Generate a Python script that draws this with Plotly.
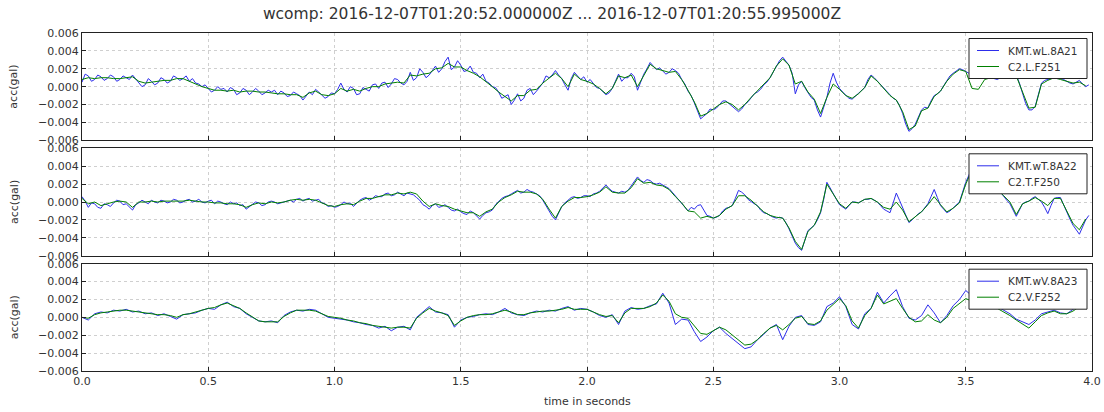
import numpy as np
import plotly.graph_objects as go

# ---------------- data (values read in units of 0.001 gal) ----------------
SCALE = 1e-3
DURATION = 4.0  # seconds covered by every series; samples are evenly spaced

TITLE = "wcomp: 2016-12-07T01:20:52.000000Z ... 2016-12-07T01:20:55.995000Z"
NAMES_BLUE = ["KMT.wL.8A21", "KMT.wT.8A22", "KMT.wV.8A23"]
NAMES_GREEN = ["C2.L.F251", "C2.T.F250", "C2.V.F252"]
Y_LABEL = "acc(gal)"
X_LABEL = "time in seconds"

# read every 0.0125 s
L_kmt = [
    0.5, 1.4, 1.2, 0.6, 0.8, 1.3, 1.1, 0.7, 0.9, 1.3, 1.1, 0.6, 0.8, 1.2, 1.0, 0.8,
    1.3, 0.9, 0.5, 0.0, 0.2, 0.9, 0.6, 0.2, 0.4, 1.0, 0.8, 0.4, 0.6, 1.2, 1.0, 0.7,
    0.9, 1.2, 0.6, 0.9, 0.4, 0.3, 0.0, 0.2, -0.2, -0.6, -0.4, 0.0, -0.3, -0.2, -0.6, -0.1,
    -0.3, -0.9, -0.7, -0.2, -0.4, -0.9, -0.6, -0.2, -0.5, -0.9, -0.7, -0.4, -0.6, -0.4, -0.9, -0.5,
    -0.7, -1.1, -1.0, -0.6, -0.8, -1.0, -1.5, -1.0, -0.6, -0.9, -0.3, -0.6, -0.9, -1.3, -1.1, -0.7,
    -0.8, -0.3, 0.4, -0.3, -0.6, 0.0, -0.2, -0.9, -0.8, -0.1, -0.3, -0.5, 0.2, 0.3, -0.2, 0.4,
    0.5, -0.1, 0.3, 0.9, 0.8, 0.4, 0.2, 0.6, 1.6, 0.7, 1.0, 2.0, 1.6, 1.0, 1.3, 1.8,
    2.3, 1.6, 2.0, 2.8, 3.3, 1.9, 2.2, 2.9, 2.4, 1.7, 1.8, 2.3, 1.6, 1.5, 1.0, 1.4,
    0.6, 0.4, 0.0, -0.1, -0.6, -1.3, -1.1, -0.9, -2.0, -1.5, -0.8, -1.6, -1.3, -0.4, -0.2, -0.9,
    -0.5, 0.0, 0.4, 1.2, 1.0, 1.3, 1.8, 1.3, 0.9, 0.2, -0.4, 0.9, 1.6, 1.2, 0.8, 1.1,
    0.5, 0.8, 0.3, -0.1, -0.2, -0.5, -0.9, -0.7, -0.2, 0.6, 1.4, 0.6, 1.0, 1.0, 1.5, 1.1,
    -0.4, 0.5, 1.4, 2.0, 2.7, 2.3, 1.9, 2.1, 1.8, 1.4, 1.6, 2.0, 1.8, 1.5, 0.8, 0.3,
    -0.5, -1.0, -1.8, -2.8, -3.6, -3.3, -3.0, -2.5, -2.6, -2.4, -2.0, -1.6, -1.6, -1.9, -2.2, -2.4,
    -2.8, -2.5, -2.0, -1.7, -1.2, -0.8, -0.6, -0.3, 0.2, 0.5, 1.0, 1.6, 2.2, 2.9, 3.3, 2.9,
    2.4, 1.5, -0.8, 0.2, 0.6, -0.1, -0.6, -1.2, -1.5, -2.6, -3.4, -2.4, -1.2, 0.4, 1.5, 0.5,
    -0.2, -0.6, -1.0, -1.3, -1.4, -1.1, -0.8, -0.5, -0.1, 0.8, 1.3, 1.0, 0.6, 0.2, -0.2, -0.6,
    -1.0, -1.3, -1.5, -2.1, -3.0, -4.2, -5.0, -4.7, -4.2, -3.3, -2.6, -2.3, -2.4, -1.6, -1.0, -0.8,
    -0.5, 0.1, 0.7, 1.2, 1.5, 1.8, 2.0, 1.9, 1.7, 1.5, 1.5, 1.3, 1.2, 1.0, 0.9, 1.0,
    1.1, 0.9, 0.8, 1.0, 1.2, 1.1, 1.0, 1.2, 1.3, 0.4, -0.8, -1.9, -2.6, -2.6, -2.2, -0.9,
    0.4, 0.7, 0.8, 0.9, 1.0, 0.9, 0.9, 0.8, 0.6, 0.4, 0.3, 0.5, 0.7, 0.3, 0.0, 0.2,
]
# read every 0.025 s
L_c2 = [
    0.8, 1.0, 0.9, 1.0, 1.0, 0.9, 0.9, 1.0,
    1.1, 0.6, 0.4, 0.5, 0.6, 0.7, 0.7, 0.9,
    0.9, 0.6, 0.3, 0.0, -0.2, -0.4, -0.4, -0.5,
    -0.4, -0.6, -0.5, -0.5, -0.6, -0.6, -0.7, -0.8,
    -0.8, -0.9, -0.9, -1.2, -0.7, -0.5, -0.9, -1.0,
    -0.8, -0.2, -0.5, -0.3, -0.5, -0.2, 0.0, 0.0,
    0.3, 0.4, 0.5, 0.4, 1.3, 1.2, 1.4, 1.5,
    2.0, 2.1, 2.6, 2.2, 2.2, 1.8, 1.5, 1.1,
    0.6, 0.0, -0.6, -1.1, -1.6, -1.0, -1.0, -0.4,
    -0.3, 0.4, 1.0, 1.5, 0.9, 0.0, 1.4, 0.8,
    0.6, 0.3, -0.2, -0.8, -0.2, 1.2, 1.0, 1.3,
    0.0, 1.3, 2.5, 2.0, 1.8, 1.6, 1.7, 0.8,
    -0.4, -1.7, -3.3, -3.0, -2.5, -2.0, -1.7, -2.0,
    -2.6, -2.0, -1.2, -0.5, 0.2, 1.0, 2.3, 3.1,
    2.4, 0.3, 0.6, -0.6, -1.4, -3.0, -1.2, 0.3,
    -0.3, -1.0, -1.3, -0.8, -0.1, 1.2, 0.6, -0.2,
    -1.0, -1.5, -2.8, -4.8, -4.4, -2.7, -2.4, -1.1,
    -0.5, 0.6, 1.4, 1.9, 1.7, -0.2, -0.3, 0.8,
    1.0, 0.9, 1.1, 1.0, 1.2, -0.6, -2.4, -2.3,
    0.3, 0.7, 1.0, 0.8, 0.6, 0.4, 0.5, 0.1,
]
# read every 0.0125 s
T_kmt = [
    0.6, 0.1, -0.6, -0.1, -0.2, -0.6, -0.7, -0.2, -0.3, -0.5, -0.1, 0.2, 0.1, -0.3, -0.2, -0.5,
    -0.9, -0.3, -0.1, 0.2, 0.0, -0.2, 0.2, 0.0, -0.1, 0.2, 0.1, -0.1, 0.0, 0.3, 0.2, -0.1,
    0.0, 0.2, 0.3, 0.0, 0.1, 0.3, 0.0, -0.1, 0.1, 0.2, -0.2, 0.1, 0.0, -0.2, -0.3, 0.0,
    -0.2, -0.1, -0.4, -0.3, -0.8, -0.5, -0.3, 0.0, -0.1, -0.4, -0.3, 0.0, 0.1, 0.0, -0.2, -0.1,
    0.0, 0.1, 0.2, 0.0, 0.3, 0.4, 0.1, 0.3, 0.4, 0.1, 0.2, 0.3, -0.1, -0.2, -0.5, -0.4,
    -0.6, -0.5, -0.3, 0.0, -0.2, -0.1, -0.5, -0.1, 0.2, 0.4, 0.5, 0.2, 0.4, 0.7, 0.6, 0.6,
    0.9, 1.0, 0.7, 0.8, 1.1, 0.9, 0.7, 1.0, 0.9, 0.8, 0.5, 0.2, -0.3, -0.5, -0.8, -0.4,
    -0.2, -0.6, -0.5, -0.3, -0.6, -0.9, -1.0, -0.8, -1.1, -1.3, -1.4, -1.0, -1.2, -1.6, -1.9, -1.5,
    -1.2, -1.1, -0.9, -0.3, 0.1, 0.4, 0.6, 0.7, 0.9, 1.1, 1.3, 1.0, 1.1, 1.4, 1.2, 1.1,
    0.9, 0.7, 0.2, -0.4, -1.0, -1.6, -2.0, -1.2, -0.5, -0.1, 0.2, 0.5, 0.6, 0.4, 0.5, 0.7,
    0.7, 0.6, 0.9, 1.0, 1.2, 1.5, 1.9, 1.5, 1.2, 1.1, 1.0, 1.2, 1.1, 1.3, 1.8, 2.3,
    2.8, 2.4, 2.2, 2.5, 2.4, 2.1, 2.0, 2.1, 1.9, 1.7, 1.5, 1.1, 0.7, 0.3, -0.1, -0.6,
    -1.0, -0.6, -0.8, -0.4, -0.3, -0.9, -1.5, -1.6, -1.8, -1.7, -1.5, -1.0, -0.7, -0.6, -0.4, 0.4,
    1.3, 1.1, 0.8, 0.3, 0.0, -0.2, -0.4, -0.9, -1.2, -1.3, -1.5, -1.7, -1.8, -1.7, -1.8, -2.3,
    -3.0, -3.8, -4.6, -5.1, -5.4, -4.3, -3.2, -2.9, -2.6, -2.0, -1.2, 0.3, 2.2, 1.6, 0.9, 0.3,
    -0.3, -0.6, -0.8, -0.4, 0.0, 0.0, -0.1, 0.1, 0.3, 0.3, 0.4, 0.2, 0.0, -0.4, -0.8, -1.0,
    -1.2, -0.1, 1.0, 0.2, -0.6, -1.5, -2.3, -2.0, -1.6, -1.3, -1.1, -0.6, -0.2, 0.6, 1.4, 0.5,
    -0.4, -0.8, -1.2, -1.0, -0.7, -0.4, 0.0, 1.1, 2.2, 3.0, 3.8, 3.4, 3.0, 2.4, 1.8, 1.5,
    1.2, 1.4, 1.6, 1.1, 0.6, 0.2, -0.2, -0.9, -1.6, -0.9, -0.2, 0.0, 0.1, 0.4, 0.6, 0.3,
    0.0, -0.6, -1.3, -0.4, 0.4, 0.5, 0.5, -0.3, -1.2, -1.9, -2.6, -3.1, -3.6, -2.8, -2.0, -1.5,
]
# read every 0.025 s
T_c2 = [
    0.4, -0.2, 0.0, -0.4, -0.2, 0.0, 0.1, 0.0,
    -0.6, 0.0, 0.0, 0.1, 0.0, 0.1, 0.1, 0.1,
    0.1, 0.2, 0.1, 0.0, 0.0, -0.1, -0.1, -0.2,
    -0.2, -0.3, -0.6, -0.3, -0.1, -0.2, 0.0, -0.1,
    0.0, 0.2, 0.3, 0.2, 0.3, 0.2, -0.1, -0.4,
    -0.5, -0.3, -0.2, -0.3, 0.1, 0.4, 0.4, 0.6,
    0.8, 0.8, 1.0, 0.9, 1.1, 0.9, 0.1, -0.5,
    -0.2, -0.4, -0.5, -0.8, -1.0, -1.2, -1.2, -1.6,
    -1.1, -0.8, 0.0, 0.5, 0.8, 1.2, 1.1, 1.1,
    0.9, 0.3, -0.8, -1.8, -0.5, 0.1, 0.5, 0.5,
    0.6, 0.8, 1.1, 1.7, 1.1, 1.0, 1.0, 1.6,
    2.6, 2.1, 2.2, 1.9, 1.8, 1.4, 0.6, -0.1,
    -1.0, -1.1, -1.8, -1.6, -1.8, -1.5, -0.8, -0.4,
    0.7, 0.7, 0.2, -0.4, -1.1, -1.5, -1.7, -1.8,
    -2.9, -4.4, -5.3, -3.3, -2.6, -1.1, 2.0, 0.9,
    -0.2, -0.7, 0.0, -0.1, 0.3, 0.4, 0.0, -0.6,
    -0.8, 0.0, -0.9, -2.2, -1.6, -1.1, -0.3, 0.6,
    -0.3, -1.1, -0.7, -0.1, 2.0, 3.6, 3.0, 1.8,
    1.3, 1.4, 0.7, 0.0, -1.4, -0.2, 0.1, 0.5,
    0.1, -0.4, 0.4, 0.4, -1.0, -2.4, -3.1, -1.9,
]
# read every 0.025 s
V_kmt = [
    0.0, -0.3, 0.4, 0.6, 0.5, 0.8, 0.7, 0.9,
    0.6, 0.7, 0.4, 0.5, 0.2, 0.4, 0.1, -0.2,
    0.3, 0.4, 0.5, 0.8, 1.0, 0.9, 1.4, 1.7,
    1.2, 1.0, 0.4, 0.0, -0.4, -0.5, -0.4, -0.6,
    0.2, 0.6, 0.8, 0.7, 0.9, 0.8, 0.4, 0.0,
    -0.1, -0.2, -0.3, -0.5, -0.6, -0.8, -0.9, -1.2,
    -1.0, -1.5, -1.1, -1.0, -1.4, 0.0, 0.6, 1.2,
    0.6, 0.5, 0.3, -1.1, -0.3, 0.0, 0.1, 0.3,
    0.4, 0.3, 0.6, 1.0, 0.5, 0.3, 0.2, 0.5,
    0.7, 0.6, 0.8, 0.7, 1.0, 1.2, 0.8, 1.0,
    0.9, 0.6, 0.2, 0.0, 0.3, -0.8, 0.7, 1.1,
    0.9, 1.0, 1.3, 1.5, 2.7, 1.6, -0.8, -0.2,
    -0.3, -1.6, -2.7, -2.2, -1.5, -1.1, -1.8, -2.4,
    -2.9, -3.5, -3.3, -2.5, -1.9, -1.2, -0.8, -2.5,
    -1.0, 0.0, 0.2, -0.8, -0.9, -0.5, 1.2, 1.6,
    2.3, 1.2, -0.8, -1.3, 0.4, 1.0, 2.8, 1.6,
    2.4, 3.1, 1.2, -0.1, -0.3, 0.2, 1.4, 0.5,
    -0.6, 0.2, 1.3, 2.0, 3.0, 2.4, 1.6, 1.3,
    1.0, 1.2, 0.8, 0.4, -0.2, -0.5, -0.8, -0.3,
    0.4, 0.6, 0.8, 0.5, 0.4, 0.9, 1.4, 1.9,
]
# read every 0.025 s
V_c2 = [
    0.0, -0.1, 0.3, 0.5, 0.6, 0.7, 0.8, 0.8,
    0.7, 0.6, 0.5, 0.4, 0.3, 0.3, 0.2, 0.0,
    0.3, 0.4, 0.6, 0.8, 1.0, 1.1, 1.4, 1.6,
    1.3, 1.0, 0.5, 0.0, -0.4, -0.5, -0.5, -0.5,
    0.1, 0.5, 0.8, 0.8, 0.8, 0.7, 0.4, 0.1,
    0.0, -0.1, -0.3, -0.4, -0.6, -0.7, -0.9, -1.0,
    -1.1, -1.2, -1.1, -1.1, -1.2, -0.1, 0.5, 1.0,
    0.7, 0.5, 0.2, -0.9, -0.4, 0.0, 0.2, 0.3,
    0.3, 0.4, 0.6, 0.8, 0.6, 0.3, 0.3, 0.5,
    0.6, 0.7, 0.7, 0.8, 0.9, 1.1, 0.9, 0.9,
    0.9, 0.6, 0.3, 0.1, 0.2, -0.6, 0.5, 1.0,
    1.0, 1.0, 1.2, 1.6, 2.5, 1.8, 0.4, 0.0,
    -0.1, -1.0, -1.8, -1.9, -1.5, -1.1, -1.4, -2.0,
    -2.5, -3.1, -3.0, -2.5, -1.8, -1.2, -0.9, -1.4,
    -0.8, -0.1, 0.1, -0.7, -0.8, -0.4, 0.8, 1.4,
    2.1, 1.3, -0.4, -1.2, 0.2, 1.0, 2.5, 1.5,
    1.8, 2.1, 1.0, 0.0, -0.5, -0.4, 0.3, -0.3,
    -0.6, 0.0, 1.0, 1.6, 2.1, 1.8, 1.2, 1.1,
    1.0, 1.0, 0.6, 0.2, -0.3, -0.8, -1.2, -0.5,
    0.2, 0.5, 0.7, 0.4, 0.4, 0.7, 1.2, 1.7,
]

Y_TICKS = [-0.006, -0.004, -0.002, 0.0, 0.002, 0.004, 0.006]
Y_TICKTEXT = ["\u22120.006", "\u22120.004", "\u22120.002", "0.000", "0.002", "0.004", "0.006"]
X_TICKS = [0.0, 0.5, 1.0, 1.5, 2.0, 2.5, 3.0, 3.5, 4.0]
X_TICKTEXT = ["0.0", "0.5", "1.0", "1.5", "2.0", "2.5", "3.0", "3.5", "4.0"]

# ---------------- styling ----------------
W, H = 1104, 412
ML, MR, MT, MB = 82, 12, 33, 41
PW, PH = W - ML - MR, H - MT - MB
FONT = "DejaVu Sans"
TXT = "#333333"
BLUE = "rgb(45,45,235)"
GREEN = "rgb(0,128,0)"


def px_x(px):
    return (px - ML) / PW


domains = [(230.7 / PH, 1.0), (115.3 / PH, 222.7 / PH), (0.0, 107.3 / PH)]
series = [(L_kmt, L_c2), (T_kmt, T_c2), (V_kmt, V_c2)]

fig = go.Figure()
layout = dict(
    width=W, height=H, autosize=False,
    margin=dict(l=ML, r=MR, t=MT, b=MB, autoexpand=False),
    paper_bgcolor="white", plot_bgcolor="white",
    font=dict(family=FONT, size=11, color=TXT),
    showlegend=False,
    title=dict(text=TITLE, x=0.5, xref="container", xanchor="center",
               y=1 - 14 / H, yanchor="middle",
               font=dict(family=FONT, size=15.5, color=TXT)),
)

annotations, shapes = [], []
for i, (blue, green) in enumerate(series):
    k = "" if i == 0 else str(i + 1)
    xa, ya = "x" + k, "y" + k
    tb = np.arange(len(blue)) * DURATION / len(blue)
    tg = np.arange(len(green)) * DURATION / len(green)
    fig.add_trace(go.Scatter(x=tb, y=np.array(blue) * SCALE, mode="lines",
                             name=NAMES_BLUE[i], line=dict(color=BLUE, width=1),
                             xaxis=xa, yaxis=ya))
    fig.add_trace(go.Scatter(x=tg, y=np.array(green) * SCALE, mode="lines",
                             name=NAMES_GREEN[i], line=dict(color=GREEN, width=1),
                             xaxis=xa, yaxis=ya))
    axis_common = dict(showline=True, mirror=True, linecolor="#222", linewidth=1,
                       ticks="inside", ticklen=4, tickcolor="#222",
                       showgrid=True, gridcolor="#cfcfcf", griddash="dot", gridwidth=1,
                       zeroline=False, automargin=False,
                       tickfont=dict(family=FONT, size=11, color=TXT))
    layout["xaxis" + k] = dict(axis_common, domain=[0, 1], anchor=ya, range=[0, 4],
                               tickvals=X_TICKS, ticktext=X_TICKTEXT,
                               showticklabels=(i == 2))
    layout["yaxis" + k] = dict(axis_common, domain=list(domains[i]), anchor=xa,
                               range=[-0.006, 0.006], tickvals=Y_TICKS,
                               ticktext=Y_TICKTEXT)
    annotations.append(dict(text=Y_LABEL, xref="paper", yref="paper",
                            x=px_x(14), y=sum(domains[i]) / 2,
                            textangle=-90, showarrow=False, xanchor="center",
                            yanchor="middle", font=dict(family=FONT, size=11, color=TXT)))

    # legend box drawn in the upper right corner of each panel
    top = domains[i][1]

    def py(dy, top=top):
        return top - dy / PH

    shapes.append(dict(type="rect", xref="paper", yref="paper",
                       x0=px_x(969), x1=px_x(1087), y0=py(45.5), y1=py(5.5),
                       fillcolor="white", line=dict(color="#222", width=1), layer="above"))
    for j, (name, col) in enumerate([(NAMES_BLUE[i], BLUE), (NAMES_GREEN[i], GREEN)]):
        yy = py(17.5 + 16 * j)
        shapes.append(dict(type="line", xref="paper", yref="paper",
                           x0=px_x(977), x1=px_x(999), y0=yy, y1=yy,
                           line=dict(color=col, width=1), layer="above"))
        annotations.append(dict(text=name, xref="paper", yref="paper",
                                x=px_x(1006), y=yy, xanchor="left", yanchor="middle",
                                showarrow=False,
                                font=dict(family=FONT, size=10.5, color=TXT)))

annotations.append(dict(text=X_LABEL, xref="paper", yref="paper",
                        x=0.5, y=-(402 - (H - MB)) / PH, showarrow=False,
                        xanchor="center", yanchor="middle",
                        font=dict(family=FONT, size=11, color=TXT)))
layout["annotations"] = annotations
layout["shapes"] = shapes
fig.update_layout(**layout)

fig.write_html("out.html",
               config={"displayModeBar": False, "responsive": False},
               post_script="document.body.style.margin='0px';document.body.style.overflow='hidden';")
